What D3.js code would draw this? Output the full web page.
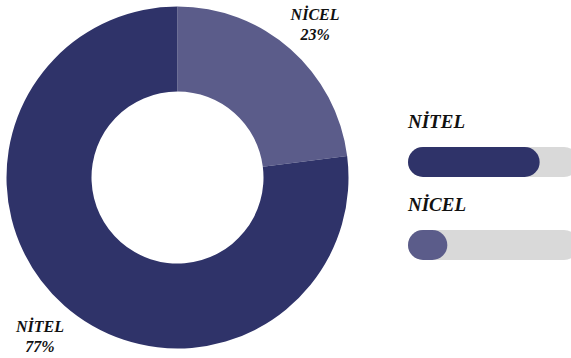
<!DOCTYPE html>
<html>
<head>
<meta charset="utf-8">
<script src="https://d3js.org/d3.v7.min.js"></script>
<style>
  body { margin: 0; background: #fff; }
  text { font-family: "Liberation Serif", "Times New Roman", serif; font-weight: bold; font-style: italic; fill: #111; }
</style>
</head>
<body>
<svg width="571" height="358"></svg>
<script>
// chart data
var categories = ["NİCEL", "NİTEL"];
var values = [23, 77];
var colours = ["#5b5c8a", "#2f3369"];
var legendOrder = ["NİTEL", "NİCEL"];

var svg = d3.select("svg");

var cx = 177.5, cy = 177.5,
    outerR = 171, innerR = 86;

var pie = d3.pie().sort(null).value(function(d) { return d.value; });
var data = categories.map(function(c, i) { return { name: c, value: values[i], colour: colours[i] }; });

var arc = d3.arc().innerRadius(innerR).outerRadius(outerR);
var labelArc = d3.arc().innerRadius(208).outerRadius(208);

var g = svg.append("g").attr("transform", "translate(" + cx + "," + cy + ")");

var slices = g.selectAll(".slice")
    .data(pie(data))
    .enter().append("g")
    .attr("class", "slice");

slices.append("path")
    .attr("d", arc)
    .attr("fill", function(d) { return d.data.colour; });

var lbl = slices.append("text")
    .attr("text-anchor", "middle")
    .attr("font-size", 16)
    .attr("transform", function(d) { return "translate(" + labelArc.centroid(d) + ")"; });

lbl.append("tspan").attr("x", 0).attr("dy", "-0.1em").text(function(d) { return d.data.name; });
lbl.append("tspan").attr("x", 0).attr("dy", "1.25em").text(function(d) { return d.data.value + "%"; });

// legend with progress bars
var x = d3.scaleLinear().domain([0, 100]).range([0, 171]);
var bx = 408, rowY = [115, 198], barH = 30;

legendOrder.forEach(function(name, i) {
  var d = data.find(function(e) { return e.name === name; });
  var row = svg.append("g").attr("transform", "translate(" + bx + "," + rowY[i] + ")");
  row.append("text")
     .attr("x", 0).attr("y", 13)
     .attr("font-size", 19)
     .text(name);
  row.append("rect")
     .attr("x", 0).attr("y", 32)
     .attr("width", x(100)).attr("height", barH)
     .attr("rx", barH / 2)
     .attr("fill", "#d9d9d9");
  row.append("rect")
     .attr("x", 0).attr("y", 32)
     .attr("width", x(d.value)).attr("height", barH)
     .attr("rx", barH / 2)
     .attr("fill", d.colour);
});
</script>
</body>
</html>
